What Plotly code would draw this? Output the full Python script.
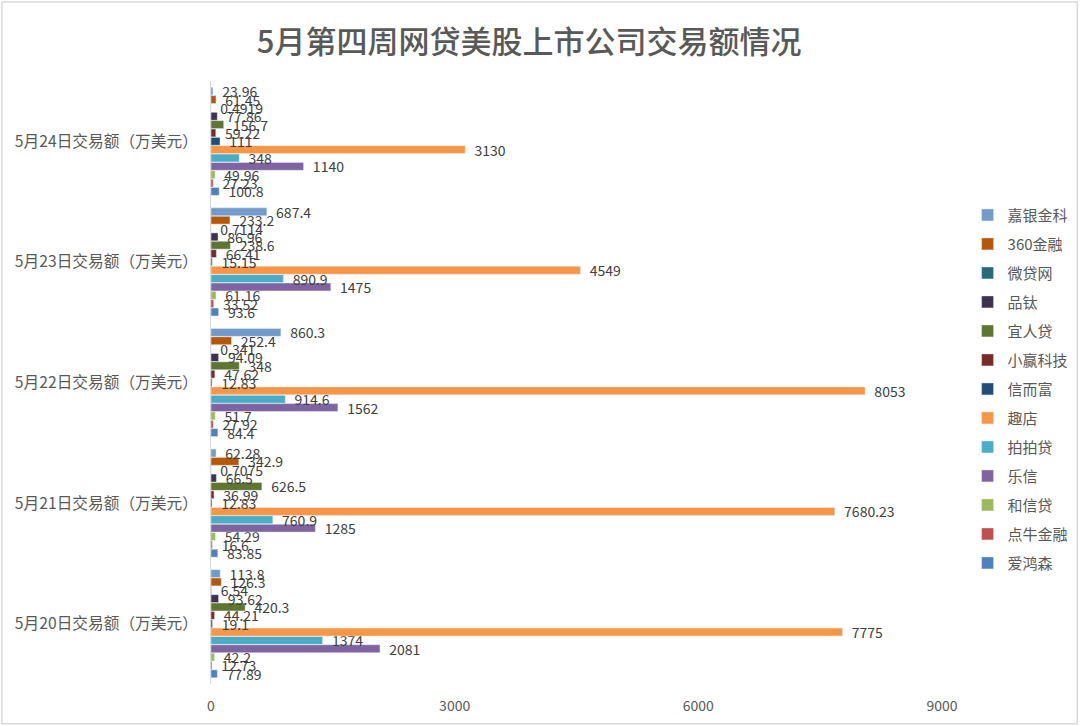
import plotly.graph_objects as go

# 日期（从下到上）
categories = ["5月20日交易额（万美元）", "5月21日交易额（万美元）", "5月22日交易额（万美元）",
              "5月23日交易额（万美元）", "5月24日交易额（万美元）"]

# 各公司交易额，顺序对应 categories
爱鸿森 = [77.89, 83.85, 84.4, 93.6, 100.8]
点牛金融 = [12.73, 16.6, 27.92, 33.52, 27.23]
和信贷 = [42.2, 54.29, 51.7, 61.16, 49.96]
乐信 = [2081, 1285, 1562, 1475, 1140]
拍拍贷 = [1374, 760.9, 914.6, 890.9, 348]
趣店 = [7775, 7680.23, 8053, 4549, 3130]
信而富 = [19.1, 12.83, 12.83, 15.15, 111]
小赢科技 = [44.21, 36.99, 47.62, 66.41, 59.22]
宜人贷 = [420.3, 626.5, 348, 238.6, 156.7]
品钛 = [93.62, 66.5, 94.09, 86.96, 77.86]
微贷网 = [6.54, 0.7075, 0.341, 0.7114, 0.4919]
金融360 = [126.3, 342.9, 252.4, 233.2, 61.45]
嘉银金科 = [113.8, 62.28, 860.3, 687.4, 23.96]

series = [
    ("爱鸿森", 爱鸿森, "#4f81bd"),
    ("点牛金融", 点牛金融, "#c0504d"),
    ("和信贷", 和信贷, "#9bbb59"),
    ("乐信", 乐信, "#8064a2"),
    ("拍拍贷", 拍拍贷, "#4bacc6"),
    ("趣店", 趣店, "#f79646"),
    ("信而富", 信而富, "#1f4e79"),
    ("小赢科技", 小赢科技, "#772c2a"),
    ("宜人贷", 宜人贷, "#5f7530"),
    ("品钛", 品钛, "#3f3151"),
    ("微贷网", 微贷网, "#276a7c"),
    ("360金融", 金融360, "#b65708"),
    ("嘉银金科", 嘉银金科, "#729aca"),
]

fig = go.Figure()
for i, (name, vals, color) in enumerate(series):
    fig.add_trace(go.Bar(
        y=categories, x=vals, name=name, orientation="h",
        marker=dict(color=color),
        text=[f"\u00a0\u00a0{v:g}" for v in vals],
        textposition="outside",
        constraintext="none",
        cliponaxis=False,
        textfont=dict(size=14, color="#404040"),
        legendgroup=name,
        legendrank=100 - i,
    ))

font_cjk = "Noto Sans CJK SC, Open Sans, sans-serif"

fig.update_layout(
    width=1080, height=726,
    barmode="group", bargap=0.1, bargroupgap=0.05,
    plot_bgcolor="white", paper_bgcolor="white",
    margin=dict(l=211, r=138, t=81, b=42, autoexpand=False),
    font=dict(family=font_cjk, color="#595959"),
    title=dict(text="5月第四周网贷美股上市公司交易额情况", x=0.49, xanchor="center",
               y=0.942, yanchor="middle",
               font=dict(size=31, color="#595959", family=font_cjk, weight=500)),
    xaxis=dict(range=[0, 9000], tickvals=[0, 3000, 6000, 9000], showgrid=False,
               zeroline=False, showline=False, ticklabelstandoff=12, automargin=False,
               tickfont=dict(size=14, color="#595959")),
    yaxis=dict(showline=True, linecolor="#d9d9d9", showgrid=False, automargin=False,
               ticklabelstandoff=9, tickfont=dict(size=15.7, color="#595959")),
    legend=dict(x=1.035, y=0.489, xanchor="left", yanchor="middle",
                traceorder="grouped", tracegroupgap=6.5, itemwidth=30,
                font=dict(size=15, color="#595959")),
    shapes=[dict(type="rect", xref="paper", yref="paper",
                 x0=-0.286, x1=1.185, y0=-0.066, y1=1.131,
                 line=dict(color="#d9d9d9", width=1.5))],
)

fig.write_html("out.html", config={"displayModeBar": False},
               post_script="document.body.style.margin='0';")
